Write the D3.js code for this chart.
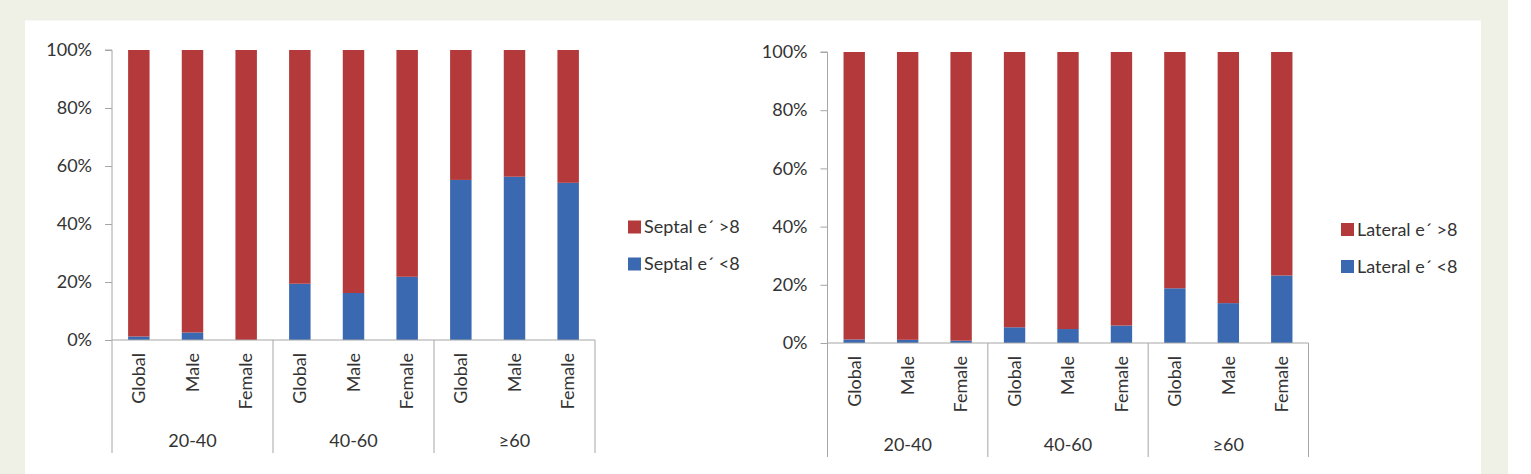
<!DOCTYPE html>
<html>
<head>
<meta charset="utf-8">
<script src="https://cdn.jsdelivr.net/npm/d3@7"></script>
<style>
  body { margin: 0; background: #fff; }
  svg { display: block; }
  .axis text { font-family: Lato, "Open Sans", sans-serif; font-size: 18px; fill: #333; }
  .axis path, .axis line { stroke: #a6a6a6; }
</style>
</head>
<body>
<div id="chart"></div>
<script>
// data
const groups = ["20-40", "40-60", "≥60"]
const sexes = ["Global", "Male", "Female"]
const yTicks = [0, 20, 40, 60, 80, 100]
// share (%) with e´ < 8, per group x sex
const septalLow = [1.2, 2.6, 0, 19.4, 16.2, 21.8, 55.2, 56.3, 54.2]
const lateralLow = [1.2, 1.1, 0.8, 5.4, 4.8, 6.0, 18.8, 13.7, 23.2]
const septalKeys = ["Septal e´ >8", "Septal e´ <8"]
const lateralKeys = ["Lateral e´ >8", "Lateral e´ <8"]

const W = 1531, H = 474
const RED = "#b3393a", BLUE = "#3a69b1"
const FONT = "Lato, 'Open Sans', sans-serif"
const TXT = "#333"

const svg = d3.select("#chart").append("svg")
  .attr("width", W)
  .attr("height", H)

// background frame
svg.append("rect").attr("width", W).attr("height", H).attr("fill", "#eff0e6")
svg.append("rect").attr("x", 25).attr("y", 20.5).attr("width", 1456).attr("height", H).attr("fill", "#fff")
svg.append("rect").attr("x", 1508).attr("y", 0).attr("width", W - 1508).attr("height", H).attr("fill", "#fff")

const cats = []
groups.forEach(g => sexes.forEach(s => cats.push(g + "|" + s)))

function drawPanel(cfg, lowVals, keys) {
  const g = svg.append("g")

  const x = d3.scaleBand()
    .domain(cats)
    .range([cfg.left, cfg.right])
    .paddingInner(0.6)
    .paddingOuter(0.3)
  const y = d3.scaleLinear()
    .domain([0, 100])
    .range([cfg.bottom, cfg.top])

  const rows = cats.map((c, i) => ({ cat: c, low: lowVals[i], high: 100 - lowVals[i] }))
  const series = d3.stack().keys(["low", "high"])(rows)
  const color = { low: BLUE, high: RED }

  // Y Axis
  g.append("g")
    .attr("class", "axis")
    .attr("transform", `translate(${cfg.left}, 0)`)
    .call(d3.axisLeft(y).tickValues(yTicks).tickSize(7).tickPadding(13).tickFormat(d => d + "%"))
    .call(a => a.select(".domain").attr("d", `M-7,${cfg.top}H0V${cfg.bottom}`))

  // bars
  g.selectAll("g.series")
    .data(series)
    .enter().append("g")
      .attr("class", "series")
      .attr("fill", d => color[d.key])
    .selectAll("rect")
    .data(d => d)
    .enter().append("rect")
      .attr("x", d => x(d.data.cat))
      .attr("width", x.bandwidth())
      .attr("y", d => y(d[1]))
      .attr("height", d => y(d[0]) - y(d[1]))

  // baseline and group separators
  g.append("line")
    .attr("x1", cfg.left).attr("x2", cfg.right)
    .attr("y1", cfg.bottom).attr("y2", cfg.bottom)
    .attr("stroke", "#a6a6a6")
  const step = x.step()
  d3.range(groups.length + 1).forEach(i => {
    const xx = cfg.left + i * sexes.length * step
    g.append("line")
      .attr("x1", xx).attr("x2", xx)
      .attr("y1", cfg.bottom).attr("y2", cfg.sepBottom)
      .attr("stroke", "#a6a6a6")
  })

  // category labels
  g.selectAll("text.cat")
    .data(cats)
    .enter().append("text")
      .attr("class", "cat")
      .attr("transform", d => `translate(${x(d) + x.bandwidth() / 2}, ${cfg.labelTop}) rotate(-90)`)
      .attr("text-anchor", "end")
      .attr("dy", "0.35em")
      .attr("font-family", FONT)
      .attr("font-size", "18px")
      .attr("fill", TXT)
      .text(d => d.split("|")[1])

  // group labels
  groups.forEach((grp, i) => {
    g.append("text")
      .attr("x", cfg.left + (i + 0.5) * sexes.length * step)
      .attr("y", cfg.groupY)
      .attr("dy", "0.35em")
      .attr("text-anchor", "middle")
      .attr("font-family", FONT)
      .attr("font-size", "18px")
      .attr("fill", TXT)
      .text(grp)
  })

  // legend
  const legend = g.append("g")
    .attr("transform", `translate(${cfg.legendX}, ${cfg.legendY})`)
  keys.forEach((k, i) => {
    const row = legend.append("g").attr("transform", `translate(0, ${i * 37})`)
    row.append("rect")
      .attr("y", -6.5)
      .attr("width", 13)
      .attr("height", 13)
      .attr("fill", i === 0 ? RED : BLUE)
    row.append("text")
      .attr("x", 16)
      .attr("dy", "0.35em")
      .attr("font-family", FONT)
      .attr("font-size", "18px")
      .attr("fill", TXT)
      .text(k)
  })
}

drawPanel({ left: 112, right: 595, top: 50, bottom: 340, sepBottom: 453, labelTop: 353, groupY: 441,
  legendX: 628, legendY: 227 }, septalLow, septalKeys)
drawPanel({ left: 827.5, right: 1308.5, top: 52, bottom: 343, sepBottom: 457, labelTop: 356, groupY: 445,
  legendX: 1341, legendY: 229.5 }, lateralLow, lateralKeys)
</script>
</body>
</html>
